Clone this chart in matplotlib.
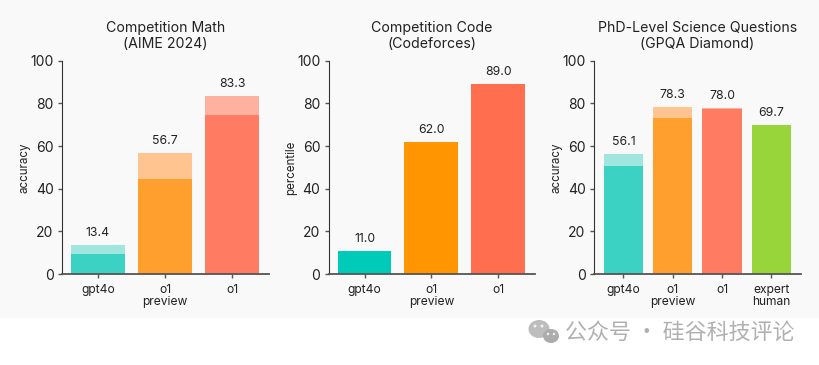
import matplotlib
matplotlib.use("Agg")
import matplotlib.pyplot as plt
from matplotlib.patches import Ellipse, Rectangle

plt.rcParams["font.family"] = ["Inter", "DejaVu Sans"]

W, H = 819, 365
TEXT = "#222222"
AXIS = "#555555"
BG = "#f9f9f9"

# panel data
math_labels = ["gpt4o", "o1\npreview", "o1"]
math_total = [13.4, 56.7, 83.3]
math_base = [9.3, 44.6, 74.4]

code_labels = ["gpt4o", "o1\npreview", "o1"]
code_total = [11.0, 62.0, 89.0]

sci_labels = ["gpt4o", "o1\npreview", "o1", "expert\nhuman"]
sci_total = [56.1, 78.3, 78.0, 69.7]
sci_base = [50.5, 73.3, 77.3, 69.7]

solid3 = ["#3bd2c4", "#ff9f2e", "#ff7c62"]
light3 = ["#a0e6df", "#ffc48f", "#ffb1a0"]
code_colors = ["#00cbb9", "#ff9500", "#ff6e4e"]
solid4 = solid3 + ["#98d53a"]
light4 = light3 + ["#98d53a"]

yticks = [0, 20, 40, 60, 80, 100]


def make_axes(fig, left, right):
    top, bottom = 60.7, 274.0
    return fig.add_axes([left / W, 1 - bottom / H, (right - left) / W, (bottom - top) / H])


def draw_panel(ax, title, ylabel, labels, totals, base, solid, light, xlim, width, label_x):
    xs = list(range(len(labels)))
    ax.bar(xs, totals, width=width, color=light, linewidth=0)
    ax.bar(xs, base, width=width, color=solid, linewidth=0)
    for x, v in zip(xs, totals):
        ax.annotate(f"{v:.1f}", (x, v), textcoords="offset pixels", xytext=(0, 6),
                    ha="center", va="bottom", fontsize=8.8, color=TEXT)

    ax.set_xlim(*xlim)
    ax.set_ylim(0, 100)
    ax.set_yticks(yticks)
    ax.set_xticks(xs)
    ax.set_xticklabels(labels, linespacing=0.95)
    ax.set_facecolor("none")
    ax.tick_params(axis="y", labelsize=10, colors=TEXT, length=3, width=1, pad=3, color=AXIS)
    ax.tick_params(axis="x", labelsize=8.7, colors=TEXT, length=3, width=1, pad=4.5, color=AXIS)
    for side in ["top", "right"]:
        ax.spines[side].set_visible(False)
    ax.spines["left"].set_color("#333333")
    ax.spines["bottom"].set_color(AXIS)
    ax.spines["bottom"].set_linewidth(1.3)
    ax.set_ylabel(ylabel, fontsize=8.3, color=TEXT)
    ax.yaxis.set_label_coords(label_x, 0.5)
    ax.set_title(title, fontsize=10.2, color=TEXT, pad=9.5, linespacing=1.15)


fig = plt.figure(figsize=(W / 100, H / 100), dpi=100, facecolor="white")
fig.add_artist(Rectangle((0, 1 - 318 / H), 1, 318 / H, transform=fig.transFigure,
                         facecolor=BG, edgecolor="none", zorder=-5))

ax1 = make_axes(fig, 62, 269)
draw_panel(ax1, "Competition Math\n(AIME 2024)", "accuracy", math_labels, math_total, math_base,
           solid3, light3, (-0.537, 2.552), 0.806, -0.15)
ax2 = make_axes(fig, 328.7, 535)
draw_panel(ax2, "Competition Code\n(Codeforces)", "percentile", code_labels, code_total, code_total,
           code_colors, code_colors, (-0.537, 2.552), 0.806, -0.155)
ax3 = make_axes(fig, 594, 801)
draw_panel(ax3, "PhD-Level Science Questions\n(GPQA Diamond)", "accuracy", sci_labels, sci_total, sci_base,
           solid4, light4, (-0.595, 3.6), 0.8, -0.15)

# watermark
fig.text(565 / W, 1 - 333 / H, "公众号 · 硅谷科技评论", fontsize=15.8, color="#b0b0b0",
         family=["Noto Sans CJK SC", "DejaVu Sans"], va="center", ha="left")
# wechat bubbles: big, small, then the eyes
bubbles = [(539, 329, 21, 18, "#bdbdbd"), (551, 336, 16, 14, "#acacac"),
           (535, 326, 3, 3, "#f2f2f2"), (542, 326, 3, 3, "#f2f2f2"),
           (548, 334, 2.5, 2.5, "#f2f2f2"), (554, 334, 2.5, 2.5, "#f2f2f2")]
for cx, cy, w_, h_, c in bubbles:
    fig.add_artist(Ellipse((cx / W, 1 - cy / H), w_ / W, h_ / H, transform=fig.transFigure,
                           facecolor=c, edgecolor="none"))

fig.savefig("out.png", dpi=100, facecolor=fig.get_facecolor())
